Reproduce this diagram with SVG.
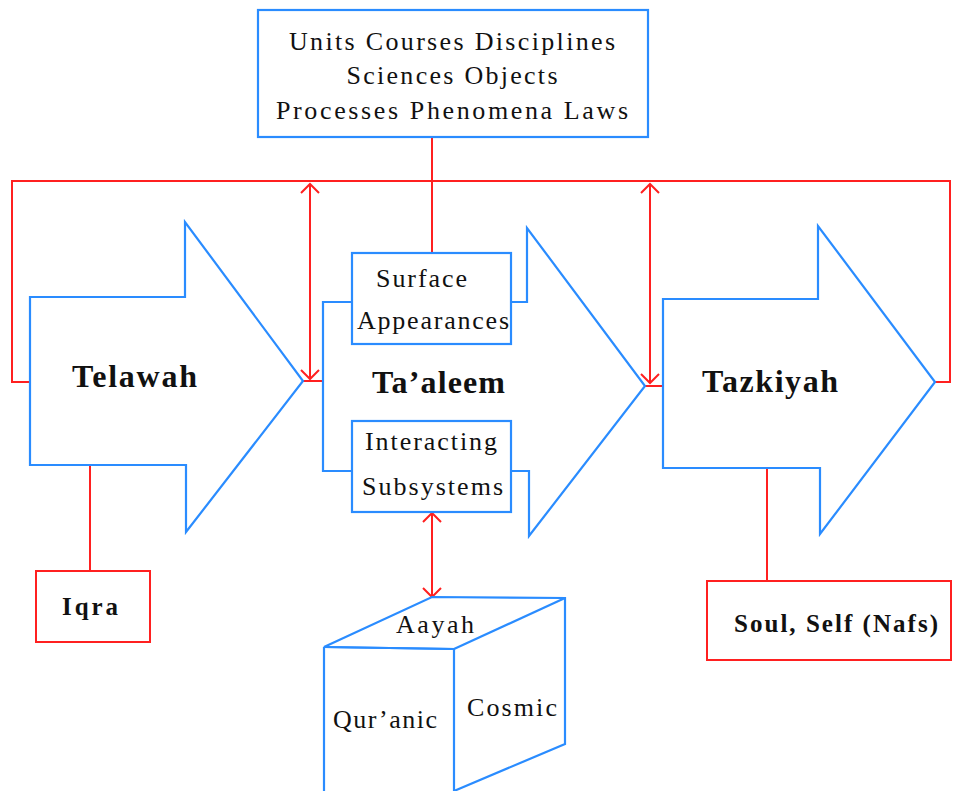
<svg xmlns="http://www.w3.org/2000/svg" width="953" height="791" viewBox="0 0 953 791">
<defs>
<marker id="open" viewBox="0 0 20 20" refX="18" refY="10" markerWidth="20" markerHeight="20" markerUnits="userSpaceOnUse" orient="auto-start-reverse">
<polyline points="9,1 18,10 9,19" fill="none" stroke="#ff2020" stroke-width="2"/>
</marker>
<style>
.b{fill:#fff;stroke:#2a8cff;stroke-width:2.2}
.r{fill:none;stroke:#ff2020;stroke-width:2}
.rb{fill:#fff;stroke:#ff2020;stroke-width:2}
.t{font-family:"Liberation Serif",serif;font-size:26px;fill:#111}
.big{font-family:"Liberation Serif",serif;font-size:32px;font-weight:bold;fill:#111}
.bold{font-family:"Liberation Serif",serif;font-size:25px;font-weight:bold;fill:#111}
</style>
</defs>
<g id="connectors">
<polyline class="r" points="30,382 12,382 12,181 950,181 950,382 935,382"/>
<line class="r" x1="432" y1="137" x2="432" y2="253"/>
<line class="r" x1="303" y1="381" x2="323" y2="381"/>
<line class="r" x1="645" y1="386" x2="663" y2="386"/>
<line class="r" x1="310" y1="184" x2="310" y2="379" marker-start="url(#open)" marker-end="url(#open)"/>
<line class="r" x1="650" y1="184" x2="650" y2="383" marker-start="url(#open)" marker-end="url(#open)"/>
<line class="r" x1="432" y1="513" x2="432" y2="597" marker-start="url(#open)" marker-end="url(#open)"/>
<line class="r" x1="90" y1="465" x2="90" y2="571"/>
<line class="r" x1="767" y1="468" x2="767" y2="581"/>
</g>
<g id="top-box">
<rect class="b" x="258" y="10" width="390" height="127"/>
<text class="t" x="452" y="50" text-anchor="middle" textLength="326" lengthAdjust="spacing">Units Courses Disciplines</text>
<text class="t" x="452" y="84" text-anchor="middle" textLength="211" lengthAdjust="spacing">Sciences Objects</text>
<text class="t" x="452" y="119" text-anchor="middle" textLength="352" lengthAdjust="spacing">Processes Phenomena Laws</text>
</g>
<g id="telawah">
<polygon class="b" points="30,297 185,297 185,222 303,381 186,532 186,465 30,465"/>
<text class="big" x="72" y="387" textLength="125" lengthAdjust="spacing">Telawah</text>
</g>
<g id="taaleem">
<polygon class="b" points="323,302 527,302 527,228 645,386 529,536 529,471 323,471"/>
<text class="big" x="372" y="393" textLength="133" lengthAdjust="spacing">Ta’aleem</text>
</g>
<g id="surface">
<rect class="b" x="352" y="253" width="159" height="91"/>
<text class="t" x="376" y="287" textLength="91" lengthAdjust="spacing">Surface</text>
<text class="t" x="357" y="329" textLength="152" lengthAdjust="spacing">Appearances</text>
</g>
<g id="interacting">
<rect class="b" x="352" y="421" width="159" height="91"/>
<text class="t" x="365" y="450" textLength="132" lengthAdjust="spacing">Interacting</text>
<text class="t" x="362" y="495" textLength="141" lengthAdjust="spacing">Subsystems</text>
</g>
<g id="tazkiyah">
<polygon class="b" points="663,299 818,299 818,226 935,382 820,534 820,468 663,468"/>
<text class="big" x="702" y="392" textLength="136" lengthAdjust="spacing">Tazkiyah</text>
</g>
<g id="iqra">
<rect class="rb" x="36" y="571" width="114" height="71"/>
<text class="bold" x="62" y="615" font-size="26" textLength="56" lengthAdjust="spacing">Iqra</text>
</g>
<g id="soul">
<rect class="rb" x="707" y="581" width="244" height="79"/>
<text class="bold" x="734" y="632" textLength="204" lengthAdjust="spacing">Soul, Self (Nafs)</text>
</g>
<g id="aayah">
<polygon class="b" points="324,647 432,597 565,598 565,744 454,791 454,649"/>
<line class="b" x1="324" y1="647" x2="454" y2="649"/>
<line class="b" x1="454" y1="649" x2="565" y2="598"/>
<line class="b" x1="324" y1="647" x2="324" y2="795"/>
<text class="t" x="396" y="633" textLength="78" lengthAdjust="spacing">Aayah</text>
<text class="t" x="333" y="728" textLength="104" lengthAdjust="spacing">Qur’anic</text>
<text class="t" x="467" y="716" textLength="90" lengthAdjust="spacing">Cosmic</text>
</g>
</svg>
